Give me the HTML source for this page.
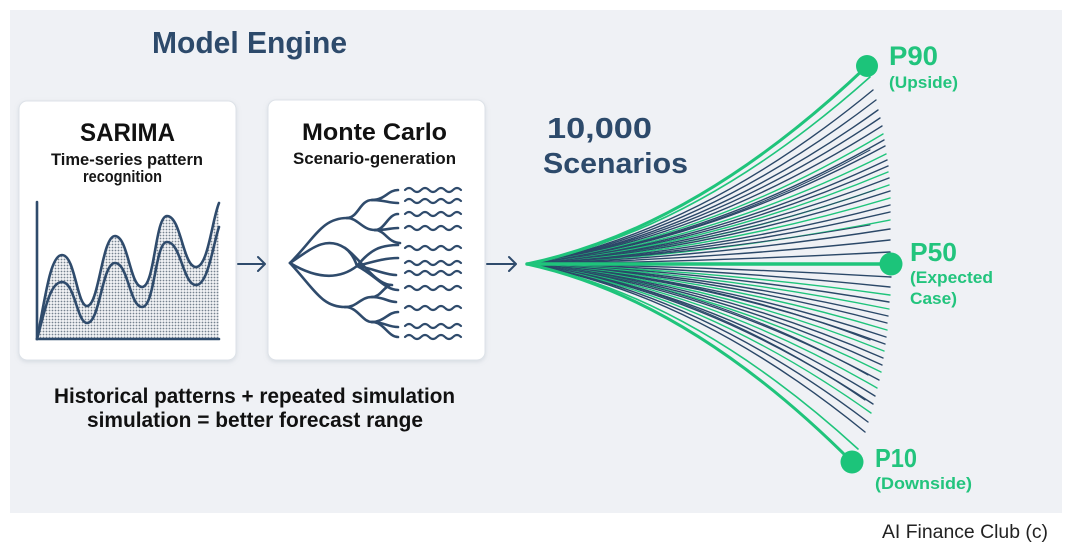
<!DOCTYPE html>
<html><head><meta charset="utf-8"><style>
html,body{margin:0;padding:0;background:#fff;}
svg{display:block;}
text{font-family:"Liberation Sans",sans-serif;font-weight:bold;}
</style></head><body>
<svg width="1071" height="552" viewBox="0 0 1071 552" xmlns="http://www.w3.org/2000/svg">
<defs>
<pattern id="dots" width="3" height="3" patternUnits="userSpaceOnUse">
<rect width="3" height="3" fill="#f2f3f5"/>
<circle cx="1.5" cy="1.5" r="0.9" fill="#76828f"/>
</pattern>
<filter id="sh" x="-10%" y="-10%" width="120%" height="120%">
<feDropShadow dx="0" dy="1.5" stdDeviation="2" flood-color="#8a96a6" flood-opacity="0.25"/>
</filter>
</defs>
<rect x="0" y="0" width="1071" height="552" fill="#ffffff"/>
<rect x="10" y="10" width="1052" height="503" fill="#eff1f5"/>

<text x="152" y="53" font-size="31" fill="#2d4a6b" textLength="195" lengthAdjust="spacingAndGlyphs">Model Engine</text>

<!-- cards -->
<rect x="19" y="101" width="217" height="259" rx="8" fill="#ffffff" stroke="#dde2e8" stroke-width="1" filter="url(#sh)"/>
<rect x="268" y="100" width="217" height="260" rx="8" fill="#ffffff" stroke="#dde2e8" stroke-width="1" filter="url(#sh)"/>

<text x="80" y="141" font-size="25" fill="#111" textLength="95" lengthAdjust="spacingAndGlyphs">SARIMA</text>
<text x="51" y="165" font-size="16.5" fill="#151515" textLength="152" lengthAdjust="spacingAndGlyphs">Time-series pattern</text>
<text x="83" y="182" font-size="17" fill="#151515" textLength="79" lengthAdjust="spacingAndGlyphs">recognition</text>

<text x="302" y="140" font-size="24" fill="#111" textLength="145" lengthAdjust="spacingAndGlyphs">Monte Carlo</text>
<text x="293" y="164" font-size="16.5" fill="#151515" textLength="163" lengthAdjust="spacingAndGlyphs">Scenario-generation</text>

<!-- SARIMA chart -->
<path d="M37,339 C45,300 50,255 62,255 C75,255 77,306 87,306 C99,306 102,236 115,236 C128,236 130,287 142,287 C155,287 155,216 167,216 C181,216 183,267 196,267 C208,267 212,220 219,203 L219,339 Z" fill="url(#dots)"/>
<g fill="none" stroke="#2f4b6c" stroke-width="2.6" stroke-linecap="round">
<path d="M37,339 C45,300 50,255 62,255 C75,255 77,306 87,306 C99,306 102,236 115,236 C128,236 130,287 142,287 C155,287 155,216 167,216 C181,216 183,267 196,267 C208,267 212,220 219,203"/>
<path d="M37,339 C45,310 50,282 62,282 C75,282 77,323 87,323 C100,323 102,263 115,263 C128,263 130,307 142,307 C155,307 155,242 167,242 C181,242 183,285 196,285 C208,285 213,245 219,227"/>
<path d="M37,202 L37,339 L219,339"/>
</g>

<!-- arrows -->
<g fill="none" stroke="#2f4b6c" stroke-width="2" stroke-linecap="round" stroke-linejoin="round">
<path d="M238,264 H265 M258,257 L265,264 L258,271"/>
<path d="M487,264 H516 M509,257 L516,264 L509,271"/>
</g>

<!-- Monte Carlo tree -->
<g fill="none" stroke="#2f4b6c" stroke-width="2.6" stroke-linecap="round">
<path d="M290,263 C315,238 322,218 347,218"/>
<path d="M347,218 C358,218 360,200 372,200"/>
<path d="M372,200 C385,200 388,190 398,190"/>
<path d="M372,200 C385,200 388,203 398,203"/>
<path d="M347,218 C358,218 362,230 375,230"/>
<path d="M375,230 C385,230 388,214 398,214"/>
<path d="M375,230 C388,230 390,228 398,228"/>
<path d="M375,230 C385,230 388,243 400,243"/>
<path d="M290,263 C310,250 325,235 345,248 C352,253 355,260 357,266"/>
<path d="M290,263 C310,275 335,283 357,266"/>
<path d="M357,266 C370,250 380,245 398,245"/>
<path d="M357,266 C372,262 385,258 398,258"/>
<path d="M357,266 C372,268 385,275 396,275"/>
<path d="M345,248 C360,258 375,285 392,285"/>
<path d="M357,266 C375,275 385,290 398,290"/>
<path d="M290,263 C315,290 322,307 345,307"/>
<path d="M345,307 C358,307 360,297 372,297"/>
<path d="M372,297 C380,297 383,288 390,285"/>
<path d="M372,297 C384,297 388,302 396,302"/>
<path d="M345,307 C358,307 362,322 372,322"/>
<path d="M372,322 C384,322 388,312 398,312"/>
<path d="M372,322 C384,322 388,327 398,327"/>
<path d="M372,322 C384,322 388,337 398,337"/>
</g>
<g fill="none" stroke="#2f4b6c" stroke-width="2.2" stroke-linecap="round">
<path d="M405,190 q4,-4 8,0 t8,0 t8,0 t8,0 t8,0 t8,0 t8,0"/>
<path d="M405,201 q4,-4 8,0 t8,0 t8,0 t8,0 t8,0 t8,0 t8,0"/>
<path d="M405,214 q4,-4 8,0 t8,0 t8,0 t8,0 t8,0 t8,0 t8,0"/>
<path d="M405,228 q4,-4 8,0 t8,0 t8,0 t8,0 t8,0 t8,0 t8,0"/>
<path d="M405,248 q4,-4 8,0 t8,0 t8,0 t8,0 t8,0 t8,0 t8,0"/>
<path d="M405,263 q4,-4 8,0 t8,0 t8,0 t8,0 t8,0 t8,0 t8,0"/>
<path d="M405,273 q4,-4 8,0 t8,0 t8,0 t8,0 t8,0 t8,0 t8,0"/>
<path d="M405,288 q4,-4 8,0 t8,0 t8,0 t8,0 t8,0 t8,0 t8,0"/>
<path d="M405,308 q4,-4 8,0 t8,0 t8,0 t8,0 t8,0 t8,0 t8,0"/>
<path d="M405,326 q4,-4 8,0 t8,0 t8,0 t8,0 t8,0 t8,0 t8,0"/>
<path d="M405,337 q4,-4 8,0 t8,0 t8,0 t8,0 t8,0 t8,0 t8,0"/>
</g>

<text x="54" y="403" font-size="21" fill="#111" textLength="401" lengthAdjust="spacingAndGlyphs">Historical patterns + repeated simulation</text>
<text x="87" y="427" font-size="21" fill="#111" textLength="336" lengthAdjust="spacingAndGlyphs">simulation = better forecast range</text>

<text x="547" y="138" font-size="29" fill="#2d4a6b" textLength="105" lengthAdjust="spacingAndGlyphs">10,000</text>
<text x="543" y="173" font-size="29" fill="#2d4a6b" textLength="145" lengthAdjust="spacingAndGlyphs">Scenarios</text>

<!-- fan -->
<g fill="none" stroke-width="1.4" stroke-linecap="round">
<path stroke="#2b4868" d="M527,264 Q700,232.7 873,90"/>
<path stroke="#2b4868" d="M527,264 Q701,234.5 876,100"/>
<path stroke="#2b4868" d="M527,264 Q702,236.3 878,110"/>
<path stroke="#2b4868" d="M527,264 Q703,237.7 880,118"/>
<path stroke="#2b4868" d="M527,264 Q704,239.2 882,126"/>
<path stroke="#1fc47b" d="M527,264 Q705,240.6 883,134"/>
<path stroke="#2b4868" d="M527,264 Q705,241.7 884,140"/>
<path stroke="#2b4868" d="M527,264 Q706,242.8 885,146"/>
<path stroke="#1fc47b" d="M527,264 Q706,244.2 886,154"/>
<path stroke="#2b4868" d="M527,264 Q707,245.3 887,160"/>
<path stroke="#2b4868" d="M527,264 Q707,246.4 888,166"/>
<path stroke="#1fc47b" d="M527,264 Q707,247.4 888,172"/>
<path stroke="#2b4868" d="M527,264 Q708,248.5 889,178"/>
<path stroke="#1fc47b" d="M527,264 Q708,249.8 889,185"/>
<path stroke="#2b4868" d="M527,264 Q708,250.9 890,191"/>
<path stroke="#1fc47b" d="M527,264 Q708,252.1 890,198"/>
<path stroke="#2b4868" d="M527,264 Q708,253.4 890,205"/>
<path stroke="#2b4868" d="M527,264 Q708,254.6 890,212"/>
<path stroke="#1fc47b" d="M527,264 Q708,256.1 890,220"/>
<path stroke="#2b4868" d="M527,264 Q708,257.7 890,229"/>
<path stroke="#2b4868" d="M527,264 Q708,259.7 890,240"/>
<path stroke="#2b4868" d="M527,264 Q708,261.8 890,252"/>
<path stroke="#2b4868" stroke-width="1.1" d="M527,264 Q702,243 870,150"/>
<path stroke="#2b4868" stroke-width="1.1" d="M527,264 Q704,249 875,190"/>
<path stroke="#2b4868" stroke-width="1.1" d="M527,264 Q704,254 870,225"/>
<path stroke="#1fc47b" stroke-width="1.6" d="M527,264 Q698,230.3 870,77"/>

<path stroke="#2b4868" d="M527,264 Q709,266.3 891,277"/>
<path stroke="#2b4868" d="M527,264 Q708,268.1 890,287"/>
<path stroke="#1fc47b" d="M527,264 Q708,269.6 890,295"/>
<path stroke="#2b4868" d="M527,264 Q708,270.8 889,302"/>
<path stroke="#1fc47b" d="M527,264 Q708,272.1 889,309"/>
<path stroke="#2b4868" d="M527,264 Q707,273.4 888,316"/>
<path stroke="#2b4868" d="M527,264 Q707,274.6 887,323"/>
<path stroke="#1fc47b" d="M527,264 Q707,275.9 887,330"/>
<path stroke="#2b4868" d="M527,264 Q706,277.1 886,337"/>
<path stroke="#2b4868" d="M527,264 Q706,278.4 885,344"/>
<path stroke="#1fc47b" d="M527,264 Q705,279.7 884,351"/>
<path stroke="#2b4868" d="M527,264 Q705,280.9 883,358"/>
<path stroke="#2b4868" d="M527,264 Q704,282.2 882,365"/>
<path stroke="#1fc47b" d="M527,264 Q704,283.4 881,372"/>
<path stroke="#2b4868" d="M527,264 Q703,284.9 879,380"/>
<path stroke="#1fc47b" d="M527,264 Q702,286.3 877,388"/>
<path stroke="#2b4868" d="M527,264 Q701,287.8 875,396"/>
<path stroke="#2b4868" d="M527,264 Q700,289.2 873,404"/>
<path stroke="#1fc47b" d="M527,264 Q699,290.8 871,413"/>
<path stroke="#2b4868" d="M527,264 Q697,292.4 868,422"/>
<path stroke="#2b4868" d="M527,264 Q696,294.2 865,432"/>
<path stroke="#2b4868" stroke-width="1.1" d="M527,264 Q703,276 870,340"/>
<path stroke="#2b4868" stroke-width="1.1" d="M527,264 Q702,282 868,375"/>
<path stroke="#2b4868" stroke-width="1.1" d="M527,264 Q700,287 865,400"/>
<path stroke="#1fc47b" stroke-width="1.6" d="M527,264 Q692,297.3 858,449"/>

<path stroke="#1fc47b" stroke-width="3" d="M527,264 Q696,228.5 866,67"/>
<path stroke="#1fc47b" stroke-width="3" d="M527,264 Q690,299.6 852,462"/>
<path stroke="#1fc47b" stroke-width="3.5" d="M527,264 L891,264"/>
</g>
<g fill="#1cc47a">
<circle cx="867" cy="66" r="11"/>
<circle cx="891" cy="264" r="11.5"/>
<circle cx="852" cy="462" r="11.5"/>
</g>

<g fill="#22c47d">
<text x="889" y="65" font-size="27" textLength="49" lengthAdjust="spacingAndGlyphs">P90</text>
<text x="889" y="88" font-size="17" textLength="69" lengthAdjust="spacingAndGlyphs">(Upside)</text>
<text x="910" y="261" font-size="26" textLength="47" lengthAdjust="spacingAndGlyphs">P50</text>
<text x="910" y="283" font-size="17" textLength="83" lengthAdjust="spacingAndGlyphs">(Expected</text>
<text x="910" y="304" font-size="17" textLength="47" lengthAdjust="spacingAndGlyphs">Case)</text>
<text x="875" y="467" font-size="26" textLength="42" lengthAdjust="spacingAndGlyphs">P10</text>
<text x="875" y="489" font-size="17" textLength="97" lengthAdjust="spacingAndGlyphs">(Downside)</text>
</g>

<text x="882" y="538" font-size="19" fill="#222" style="font-weight:normal" textLength="166" lengthAdjust="spacingAndGlyphs">AI Finance Club (c)</text>
</svg>
</body></html>
